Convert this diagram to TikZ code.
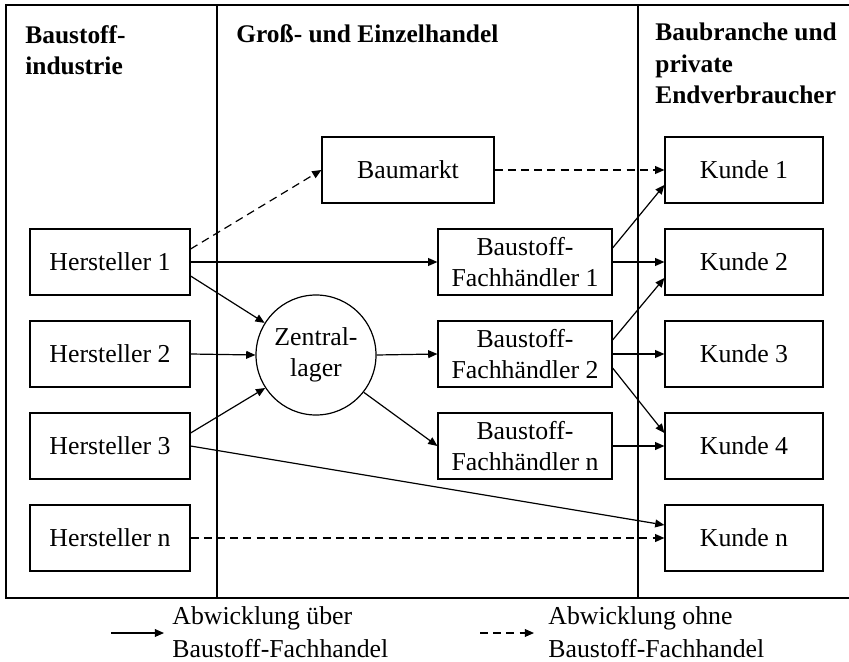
\documentclass[tikz,border=0pt]{standalone}
\usepackage{fontspec}
\setmainfont{Liberation Serif}
\usetikzlibrary{arrows.meta,calc}
\begin{document}
\begin{tikzpicture}[x=0.5pt,y=-0.5pt,
  every node/.style={font=\fontsize{12.9}{15.75}\selectfont},
  box/.style={draw,line width=0.6pt,minimum height=33pt,inner sep=0pt,align=center},
  hbox/.style={box,minimum width=80pt},
  fbox/.style={box,minimum width=87pt},
  kbox/.style={box,minimum width=79pt},
  head/.style={anchor=base west,inner sep=0pt,align=left,font=\fontsize{12.7}{15.75}\selectfont\bfseries},
  flow/.style={line width=0.6pt,-{Triangle[length=4.6pt,width=3.9pt]}},
  direct/.style={flow,dash pattern=on 4pt off 2.6pt},
  legend/.style={anchor=base west,inner sep=0pt,align=left,font=\fontsize{12.9}{16.5}\selectfont}]
\useasboundingbox (0,0) rectangle (849,662);

% frame and columns
\draw[line width=0.6pt] (860,5) -- (6,5) -- (6,598) -- (860,598);
\draw[line width=0.6pt] (217,5) -- (217,598);
\draw[line width=0.6pt] (638,5) -- (638,598);

% column headings (anchored on the baseline of their last line)
\node[head] (hind) at (25,75) {Baustoff-\\industrie};
\node[head] (hhan) at (236,43) {Groß- und Einzelhandel};
\node[head] (hend) at (655,104) {Baubranche und\\private\\Endverbraucher};

% producers
\node[hbox] (h1) at (110,262) {Hersteller 1};
\node[hbox] (h2) at (110,354) {Hersteller 2};
\node[hbox] (h3) at (110,446) {Hersteller 3};
\node[hbox] (hn) at (110,538) {Hersteller n};

% trade
\node[box,minimum width=86pt] (bm) at (408,170) {Baumarkt};
\node[draw,circle,line width=0.6pt,minimum size=60pt,inner sep=0pt,align=center] (z) at (316,355) {Zentral-\\lager};
\node[fbox] (f1) at (525,262) {Baustoff-\\Fachhändler 1};
\node[fbox] (f2) at (525,354) {Baustoff-\\Fachhändler 2};
\node[fbox] (fn) at (525,446) {Baustoff-\\Fachhändler n};

% customers
\node[kbox] (k1) at (744,170) {Kunde 1};
\node[kbox] (k2) at (744,262) {Kunde 2};
\node[kbox] (k3) at (744,354) {Kunde 3};
\node[kbox] (k4) at (744,446) {Kunde 4};
\node[kbox] (kn) at (744,538) {Kunde n};

% flows via the building-materials trade
\draw[flow] (h1.east) -- (f1.west);
\draw[flow] ($(h1.east)+(0,14)$) -- (z.148);
\draw[flow] (h2.east) -- (z.west);
\draw[flow] ($(h3.east)+(0,-13)$) -- (z.213);
\draw[flow] (h3.east) -- ($(kn.west)+(0,-13)$);
\draw[flow] (z.east) -- (f2.west);
\draw[flow] (z.-38) -- (fn.west);
\draw[flow] ($(f1.east)+(0,-14)$) -- ($(k1.west)+(0,15)$);
\draw[flow] (f1.east) -- (k2.west);
\draw[flow] ($(f2.east)+(0,-14)$) -- ($(k2.west)+(0,16)$);
\draw[flow] (f2.east) -- (k3.west);
\draw[flow] ($(f2.east)+(0,14)$) -- ($(k4.west)+(0,-13)$);
\draw[flow] (fn.east) -- (k4.west);

% flows bypassing it
\draw[direct] ($(h1.east)+(0,-13)$) -- (bm.west);
\draw[direct] (bm.east) -- (k1.west);
\draw[direct] (hn.east) -- (kn.west);

% legend
\coordinate (la) at (111,633);
\coordinate (lb) at (164,633);
\coordinate (lc) at (480,633);
\coordinate (ld) at (534,633);
\draw[flow] (la) -- (lb);
\draw[direct] (lc) -- (ld);
\node[legend] (lt1) at (172,657) {Abwicklung über\\Baustoff-Fachhandel};
\node[legend] (lt2) at (548,657) {Abwicklung ohne\\Baustoff-Fachhandel};
\end{tikzpicture}
\end{document}
